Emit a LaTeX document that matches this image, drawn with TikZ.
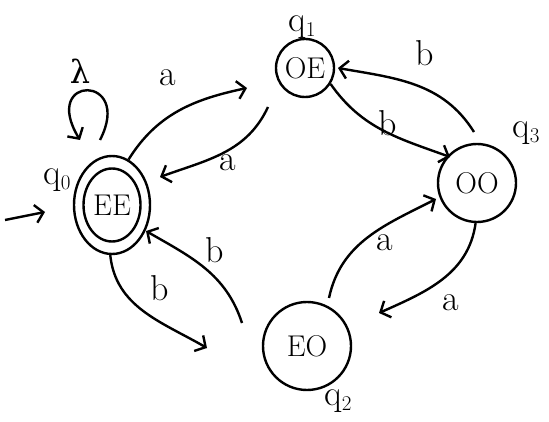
\documentclass[tikz,border=0pt]{standalone}
\usepackage{fontspec}
\newfontfamily\grfont{DejaVu Serif}
\usetikzlibrary{arrows.meta,shapes.geometric,calc}
\newcommand{\qname}[1]{q\raisebox{-0.35ex}{\fontsize{21}{21}\selectfont #1}}
\begin{document}
\begin{tikzpicture}[x=1pt,y=1pt,
  every path/.style={line width=2.4pt},
  tip/.style={-{Straight Barb[length=8pt,width=18pt,line width=2.4pt]}},
  state/.style={circle,draw,inner sep=0pt,font=\fontsize{30}{30}\selectfont},
  lbl/.style={font=\fontsize{36}{36}\selectfont,inner sep=0pt},
  qlbl/.style={font=\fontsize{36}{36}\selectfont,inner sep=0pt}]
\useasboundingbox (0,0) rectangle (549,421);
% states
\node[ellipse,draw,minimum width=76pt,minimum height=98pt,inner sep=0pt,font=\fontsize{30}{30}\selectfont] (q0) at (112,216) {EE};
\draw (q0.center) ellipse (28.5pt and 36.5pt);
\node[state,minimum size=58pt] (q1) at (305,353) {OE};
\node[state,minimum size=78pt] (q3) at (477,238) {OO};
\node[state,minimum size=88pt] (q2) at (307,75) {EO};
% state names
\node[qlbl] (n0) at (57,241) {\qname{0}};
\node[qlbl] (n1) at (302,394) {\qname{1}};
\node[qlbl] (n3) at (526,288) {\qname{3}};
\node[qlbl] (n2) at (338,20) {\qname{2}};
% start arrow
\coordinate (s0) at ($(q0)+(-107,-15)$);
\coordinate (s1) at ($(q0)+(-67,-7)$);
\draw[tip] (s0) -- (s1);
% self loop
\coordinate (l1) at ($(q0)+(-12,65)$);
\coordinate (l2) at ($(q0)+(-32,65)$);
\draw[tip] (l1) .. controls ($(q0)+(22,131)$) and ($(q0)+(-72,131)$) .. (l2);
\node[lbl,font=\fontsize{32}{32}\grfont] (lam) at (80,350) {λ};
% free ends
\coordinate (a1e) at ($(q1)+(-58,-20)$);
\coordinate (a2s) at ($(q1)+(-37,-39)$);
\coordinate (a2e) at ($(q0)+(48,28)$);
\coordinate (b1e) at ($(q3)+(-27,26)$);
\coordinate (b2s) at ($(q3)+(-3,51)$);
\coordinate (b2e) at ($(q1)+(33,0)$);
\coordinate (a3s) at ($(q2)+(22,48)$);
\coordinate (a3e) at ($(q3)+(-41,-16)$);
\coordinate (a4e) at ($(q2)+(72,33)$);
\coordinate (b3s) at ($(q2)+(-65,23)$);
\coordinate (b3e) at ($(q0)+(34,-26)$);
\coordinate (b4e) at ($(q2)+(-100,-2)$);
% transitions
\draw[tip] (q0.70) to[out=58,in=192] (a1e);
\draw[tip] (a2s) to[out=245,in=20] (a2e);
\draw[tip] (q1.-32) to[out=-55,in=160] (b1e);
\draw[tip] (b2s) to[out=122,in=-10] (b2e);
\draw[tip] (a3s) to[out=78,in=207] (a3e);
\draw[tip] (q3.268) to[out=262,in=24] (a4e);
\draw[tip] (b3s) to[out=108,in=-30] (b3e);
\draw[tip] (q0.268) to[out=-84,in=150] (b4e);
% labels
\node[lbl] (la1) at (168,343) {a};
\node[lbl] (la2) at (228,258) {a};
\node[lbl] (lb1) at (388,298) {b};
\node[lbl] (lb2) at (425,368) {b};
\node[lbl] (la3) at (385,178) {a};
\node[lbl] (la4) at (451,118) {a};
\node[lbl] (lb3) at (215,171) {b};
\node[lbl] (lb4) at (160,133) {b};
\end{tikzpicture}
\end{document}
